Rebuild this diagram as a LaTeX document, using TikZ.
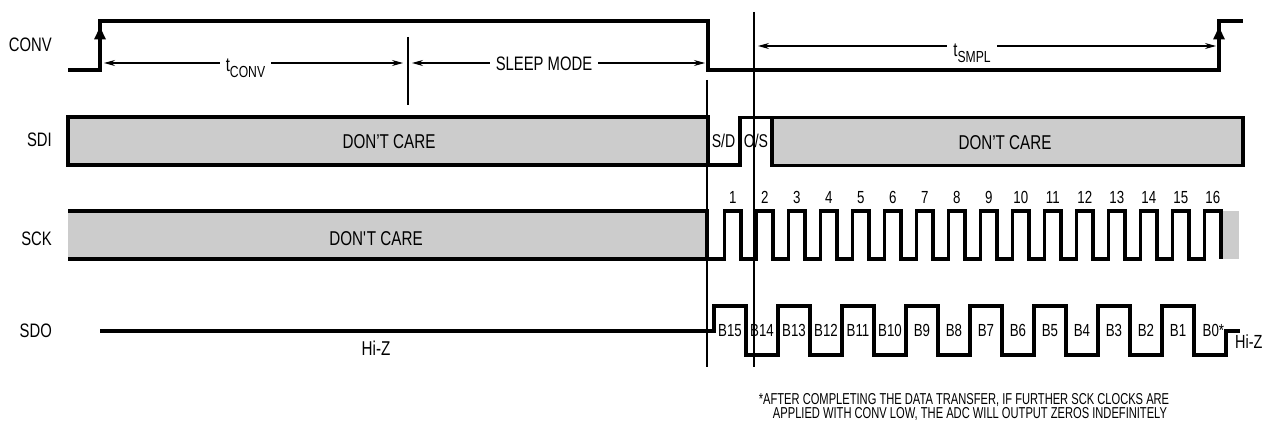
\documentclass[tikz,border=0pt]{standalone}
\usepackage{fontspec}
\setmainfont{Liberation Sans}[FakeStretch=0.76]
\newfontfamily\fnfont{Liberation Sans}[FakeStretch=0.705]
\usetikzlibrary{arrows.meta}
\begin{document}
\begin{tikzpicture}[x=1pt,y=-1pt,
  sig/.style={line width=3.1pt, line join=miter},
  thinline/.style={line width=1.1pt},
  dimline/.style={line width=1.1pt, {Stealth[length=11pt,width=6pt]}-{Stealth[length=11pt,width=6pt]}},
  dcfill/.style={fill=black!20},
  big/.style={font=\fontsize{19.5}{20}\selectfont, inner sep=0pt, anchor=base},
  mid/.style={font=\fontsize{17.5}{18}\selectfont, inner sep=0pt, anchor=base},
  sig name/.style={big, anchor=base east},
  gaplabel/.style={big, fill=white, inner xsep=6pt, inner ysep=1pt}]
\useasboundingbox (0,0) rectangle (1264,425);

% signal names
\node[sig name] (nconv) at (52,52) {CONV};
\node[sig name] (nsdi) at (52,147) {SDI};
\node[sig name] (nsck) at (52,245.5) {SCK};
\node[sig name] (nsdo) at (52,337) {SDO};

% ---------- CONV ----------
\draw[sig] (68,70) -- (100,70) -- (100,21) -- (708,21) -- (708,70) -- (1219,70) -- (1219,21) -- (1243,21);
\fill (100,27) -- (106,39.5) -- (94,39.5) -- cycle;
\fill (1219,27) -- (1225,39.5) -- (1213,39.5) -- cycle;

% timing dimensions
\coordinate (tc1) at (104,63);
\coordinate (tc2) at (403,63);
\coordinate (sm1) at (412,63);
\coordinate (sm2) at (705,63);
\coordinate (ts1) at (758,46);
\coordinate (ts2) at (1216,46);
\draw[dimline] (tc1) -- (tc2);
\draw[dimline] (sm1) -- (sm2);
\draw[dimline] (ts1) -- (ts2);
\node[gaplabel] (tconv) at (245.5,72) {t\raisebox{-5.5pt}{\fontsize{16}{16}\selectfont CONV}};
\node[gaplabel] (sleep) at (544,70.7) {SLEEP MODE};
\node[gaplabel] (tsmpl) at (972,57) {t\raisebox{-6pt}{\fontsize{16}{16}\selectfont SMPL}};

% ---------- SDI ----------
\filldraw[sig, dcfill] (68,117) rectangle (708,165);
\draw[sig] (708,165) -- (740,165) -- (740,117.5) -- (772,117.5);
\filldraw[sig, dcfill] (772,117.5) rectangle (1243,165.5);
\node[big, font=\fontsize{20}{20}\selectfont] (dc1) at (389,149) {DON’T CARE};
\node[big, font=\fontsize{20}{20}\selectfont] (dc2) at (1005,149.3) {DON’T CARE};
\node[big, font=\fontsize{18.5}{19}\selectfont] (sd) at (723.5,148) {S/D};
\node[big, font=\fontsize{18.5}{19}\selectfont] (os) at (756,148) {O/S};

% ---------- SCK ----------
\fill[black!20] (68,211) rectangle (707,259);
\fill[black!20] (1221,211) rectangle (1239,259);
\draw[sig] (68,259) -- (707,259);
\draw[sig] (68,211) -- (707,211) -- (707,259)
  foreach \k in {0,...,15} { -- ({724.5+32*\k},259) -- ({724.5+32*\k},211) -- ({741+32*\k},211) -- ({741+32*\k},259) };
\node[big, font=\fontsize{20}{20}\selectfont] (dc3) at (376,245) {DON\textquotesingle T CARE};
\foreach \k [evaluate=\k as \n using int(\k+1)] in {0,...,15}
  \node[mid] (clk\n) at ({732.75+32*\k},204) {\n};

% ---------- SDO ----------
\draw[sig] (100,331) -- (714,331)
  foreach \k in {0,...,7} { -- ({714+64*\k},306) -- ({746+64*\k},306) -- ({746+64*\k},355) -- ({778+64*\k},355) }
  -- (1226,331) -- (1240,331);
\foreach \k [evaluate=\k as \b using int(15-\k)] in {0,...,14}
  \node[mid] (bit\b) at ({730+32*\k},336) {B\b};
\node[mid, anchor=base west] (bit0) at (1202.5,336) {B0*};
\node[big, font=\fontsize{19}{19}\selectfont, anchor=base west] (hiz2) at (1235,348) {Hi-Z};
\node[big, font=\fontsize{20}{20}\selectfont] (hiz1) at (376,355) {Hi-Z};

% ---------- marker lines ----------
\draw[thinline] (408,37) -- (408,105);
\draw[thinline] (707,80) -- (707,367);
\draw[thinline] (754,12) -- (754,367);

% ---------- footnote ----------
\node[inner sep=0pt, anchor=base, font=\fnfont\fontsize{15.8}{16}\selectfont] (fn1) at (964,404) {*AFTER COMPLETING THE DATA TRANSFER, IF FURTHER SCK CLOCKS ARE};
\node[inner sep=0pt, anchor=base, font=\fnfont\fontsize{15.8}{16}\selectfont] (fn2) at (970,418.5) {APPLIED WITH CONV LOW, THE ADC WILL OUTPUT ZEROS INDEFINITELY};
\end{tikzpicture}
\end{document}
